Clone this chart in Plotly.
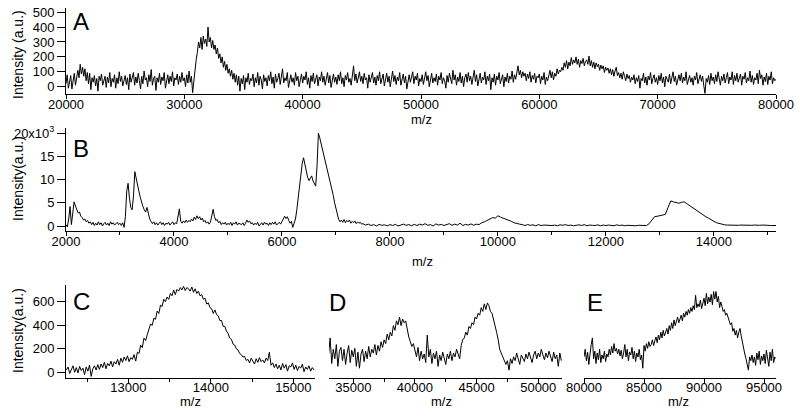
import numpy as np
import plotly.graph_objects as go

# ---------------- data ----------------
# Panel A: m/z 20000..80000, sampled every 100
a_start, a_step = 20000, 100
a_int = [
    20, 80, -10, 50, 75, -15, 45, 90, 10, 60,
    110, 60, 150, 85, 130, 70, 120, 40, 95, 20,
    90, -20, 60, 30, 75, 5, 55, -30, 70, 40,
    85, 10, 50, 70, -5, 65, 25, 95, 0, 55,
    30, 80, -10, 60, 20, 100, 35, 70, 5, 50,
    75, 15, 60, -20, 85, 30, 55, 95, 10, 65,
    25, 90, 40, -15, 70, 20, 105, 45, 60, 0,
    80, 35, 115, 10, 55, 70, -25, 60, 30, 90,
    15, 65, 40, 95, -10, 55, 80, 20, 70, 35,
    100, 5, 60, 45, 85, 15, 70, 30, 95, 40,
    60, 0, 80, 25, 105, 30, 70, -40, 50, 110,
    180, 230, 300, 260, 330, 250, 340, 290, 320, 270,
    400, 300, 330, 260, 310, 250, 280, 220, 260, 190,
    220, 160, 200, 130, 170, 110, 150, 90, 120, 70,
    110, 50, 90, 30, 80, 10, 70, -30, 55, 20,
    75, -20, 60, 30, 90, 15, 55, 40, 85, 0,
    60, 25, 95, 10, 70, 45, -15, 80, 35, 60,
    5, 75, 40, 100, 20, 65, -10, 85, 30, 55,
    90, 15, 70, 120, 25, 60, 40, 95, -5, 50,
    80, 30, 60, 10, 95, 40, 70, 0, 55, 85,
    25, 70, 45, 100, 15, 60, -10, 75, 35, 90,
    20, 55, 80, 5, 65, 40, 100, 30, 70, 10,
    60, 95, 25, 75, -5, 55, 85, 30, 65, 15,
    80, 40, 100, 20, 60, 0, 75, 45, 95, 30,
    55, 10, 70, 140, 40, 85, 25, 65, 100, 35,
    70, 20, 90, 45, 60, -10, 80, 30, 55, 95,
    25, 65, 10, 75, 40, 100, 20, 60, 85, 5,
    50, 90, 30, 70, 0, 60, 105, 35, 75, 15,
    65, 40, 95, 10, 55, 85, 25, 70, -15, 50,
    80, 30, 60, 100, 20, 70, 45, 90, 5, 55,
    35, 80, 15, 65, 100, 40, 75, 0, 55, 90,
    25, 60, 35, 85, 10, 70, 45, 95, 20, 60,
    40, -10, 75, 30, 90, 55, 20, 110, 45, 80,
    10, 65, 35, 95, 25, 70, 0, 60, 85, 30,
    95, 40, 70, 15, 60, 110, 35, 80, 5, 55,
    90, 25, 65, 45, 100, 15, 70, 40, 85, -20,
    60, 30, 85, 10, 70, 45, 95, 20, 55, 80,
    0, 65, 35, 90, 25, 70, 50, 105, 30, 80,
    50, 95, 140, 80, 110, 60, 100, 70, 90, 40,
    85, 55, 100, 30, 75, 50, 90, 25, 70, 60,
    85, 20, 70, 45, 95, 15, 65, 40, 80, 110,
    60, 100, 45, 90, 70, 120, 85, 110, 100, 130,
    110, 160, 130, 175, 120, 165, 140, 195, 150, 180,
    160, 200, 150, 185, 130, 175, 155, 190, 140, 170,
    180, 150, 205, 140, 175, 130, 165, 120, 160, 135,
    150, 110, 145, 120, 140, 95, 130, 110, 125, 90,
    120, 80, 115, 70, 105, 130, 75, 95, 60, 90,
    50, 100, 70, 40, 85, 55, 75, 30, 65, 45,
    80, 20, 60, 35, 75, -10, 55, 40, 90, 25,
    65, 10, 70, 45, 95, 20, 55, 80, 30, 60,
    15, 75, 40, 90, 25, 65, 0, 70, 50, 30,
    85, 20, 60, 100, 35, 70, 10, 55, 80, 40,
    90, 25, 65, 40, 100, 15, 55, 75, 30, 60,
    10, 70, 45, 95, 20, 60, 80, 35, 70, 5,
    -45, 55, 30, 75, 15, 90, 40, 65, 20, 80,
    35, 100, 50, 10, 70, 40, 85, 25, 60, 95,
    20, 65, 45, 100, 15, 75, 40, 90, 30, 60,
    85, 10, 70, 50, 95, 25, 60, 40, 105, 30,
    75, 15, 60, 45, 90, 20, 110, 55, 80, 10,
    65, 35, 90, 15, 70, 45, 100, 20, 60, 40,
    50,
]

# Panel B: two sampling segments
b1_start, b1_step = 2000, 25
b1_int = [
    300, -200, 1500, 4200, 300, 2500, 5200, 4300, 3600, 2800, 3000, 2100, 1800, 1300, 1500, 900, 1200, 600, 900, 300,
    800, 100, 600, 200, 900, 300, 700, 0, 500, 800, 200, 600, 100, 900, 400, 700, 200, 500, 800, 300,
    600, 100, 700, -300, 2000, 7500, 9200, 6000, 4000, 3500, 6500, 11700, 10500, 9000, 7500, 6200, 5000, 4200, 3500, 3000,
    4000, 2800, 1500, 1000, 500, 900, 300, 700, 200, 600, 900, 300, 700, 100, 600, 400, 800, 200, 500, 900,
    300, 700, 500, 2200, 3700, 1000, 600, 1100, 700, 1300, 800, 1200, 900, 1500, 1100, 1900, 1400, 2200, 1600, 2000,
    1300, 1700, 900, 1200, 600, 900, 400, 800, 2000, 3600, 2000, 1200, 1400, 700, 1000, 300, 700, 400, 800, 200,
    600, 300, 800, 100, 700, 400, 900, 200, 600, 500, 300, 700, 100, 600, 1300, 800, 1100, 500, 700, 200,
    600, 300, 800, 0, 500, 700, 200, 800, 400, 600, 100, 700, 300, 800, 400, 900, 200, 600, 800, 400,
    900, 1500, 2100, 1600, 2000, 1200, 600, 1000, -300, 600, 1500, 3500, 6000, 9000, 12000, 13500, 14700, 13000, 11500, 10500,
    9800, 10200, 10800, 9700, 9200, 8600, 13000, 20000, 19000, 17800, 16500, 15500, 14200, 12500, 11500, 10200, 9200, 7800, 6600, 5000,
    3800, 2500, 1400, 900, 1300, 800, 1400, 700, 1200, 900, 1300, 600, 1000, 700, 1100, 500, 900, 600, 800, 400,
]
b2_start, b2_step = 7500, 50
b2_int = [
    500, 200, 400, 100, 300, 0, 350, 150, 250, 50,
    300, 100, 350, 0, 250, 400, 150, 300, 50, 350,
    100, 400, 200, 500, 150, 300, 0, 450, 200, 350,
    100, 300, 500, 150, 400, 200, 600, 100, 350, 200,
    450, 150, 400, 300, 700, 900, 1200, 1500, 1800, 1700,
    2200, 1900, 1700, 1500, 1200, 1000, 700, 500, 400, 300,
    100, 300, 150, 250, 50, 300, 100, 200, 150, 250,
    100, 200, 50, 250, 150, 300, 100, 200, 50, 150,
    250, 100, 300, 50, 200, 150, 100, 250, 50, 200,
    100, 200, 150, 50, 250, 100, 200, 50, 150, 100,
    200, 50, 150, 100, 200, 100, 500, 1300, 2000, 2100,
    2200, 2300, 2500, 4000, 5400, 5200, 5000, 4900, 5100, 5200,
    4800, 4400, 4000, 3500, 3100, 2700, 2300, 2000, 1700, 1300,
    1000, 700, 500, 300, 250, 200, 150, 250, 200, 150,
    200, 150, 250, 200, 150, 200, 100, 150, 200, 100,
    150, 100, 150, 100,
]

# Panel C: m/z 12250..15250, every 20
c_start, c_step = 12250, 20
c_int = [
    20, 45, -10, 30, 55, 0, 40, -5, 50, 15,
    35, -20, 45, 10, 60, -35, 30, 55, 20, 65,
    25, 70, 40, 85, 30, 75, 55, 95, 45, 90,
    70, 110, 60, 120, 85, 130, 100, 140, 90, 125,
    110, 150, 95, 170, 160, 230, 210, 290, 270, 320,
    370, 410, 400, 460, 450, 520, 500, 570, 560, 620,
    600, 640, 620, 670, 650, 700, 660, 705, 690, 720,
    700, 730, 695, 720, 710, 690, 725, 680, 710, 670,
    690, 650, 660, 620, 630, 580, 590, 550, 540, 500,
    530, 490, 480, 440, 440, 390, 390, 350, 330, 290,
    280, 240, 230, 200, 190, 160, 150, 130, 135, 100,
    110, 80, 120, 95, 70, 115, 85, 125, 90, 105,
    80, 120, 100, 170, 60, 80, 40, 70, 30, 60,
    20, 75, 35, 65, 10, 55, 45, 80, 25, 60,
    15, 50, 35, 70, 5, 45, 25, 55, 10, 40,
    20,
]

# Panel D: m/z 33000..51875, every 125 (arbitrary intensity units)
d_start, d_step = 33000, 125
d_int = [
    25, 42, 15, 30, 20, 35, 12, 28,
    32, 18, 30, 14, 26, 34, 16, 29,
    22, 31, 12, 27, 10, 25, 30, 17,
    28, 20, 33, 22, 30, 26, 35, 24,
    34, 28, 38, 32, 40, 36, 46, 40,
    48, 44, 55, 50, 60, 56, 64, 55,
    62, 58, 60, 50, 43, 38, 33, 36,
    30, 22, 32, 18, 28, 20, 25, 16,
    45, 22, 30, 15, 26, 20, 28, 12,
    24, 18, 27, 21, 14, 25, 20, 28,
    18, 26, 22, 30, 24, 20, 34, 40,
    42, 48, 45, 54, 52, 58, 56, 64,
    62, 68, 66, 74, 70, 78, 72, 79,
    76, 70, 68, 62, 54, 48, 40, 30,
    26, 22, 19, 14, 18, 8, 20, 15,
    22, 18, 26, 20, 14, 24, 21, 17,
    25, 20, 27, 22, 16, 24, 28, 20,
    26, 22, 30, 24, 19, 26, 21, 28,
    23, 17, 27, 20, 24, 12, 26, 18,
]

# Panel E: m/z 80000..96000, every 100 (arbitrary intensity units)
e_start, e_step = 80000, 100
e_int = [
    22, 30, 18, 27, 14, 26, 35, 42, 20, 28,
    15, 26, 19, 30, 16, 24, 20, 28, 17, 25,
    22, 30, 24, 33, 26, 36, 28, 31, 25, 30,
    23, 29, 20, 26, 35, 22, 30, 18, 27, 24,
    32, 20, 28, 17, 26, 22, 30, 19, 24, 10,
    34, 28, 36, 31, 38, 33, 35, 40, 34, 39,
    43, 37, 45, 40, 48, 42, 50, 44, 47, 52,
    46, 55, 50, 58, 52, 61, 55, 60, 64, 58,
    62, 66, 60, 68, 64, 70, 66, 72, 68, 74,
    70, 76, 72, 87, 74, 78, 75, 82, 73, 79,
    84, 76, 89, 78, 85, 80, 88, 77, 91, 83,
    91, 80, 86, 74, 80, 75, 70, 72, 66, 68,
    64, 60, 56, 58, 49, 52, 45, 50, 42, 48,
    52, 44, 36, 30, 25, 20, 12, 8, 22, 18,
    24, 16, 22, 13, 26, 19, 28, 14, 23, 18,
    25, 15, 29, 20, 12, 27, 18, 30, 16, 22,
    20,
]

a_ticks = [20000, 30000, 40000, 50000, 60000, 70000, 80000]
a_yticks = [0, 100, 200, 300, 400, 500]
b_ticks = [2000, 4000, 6000, 8000, 10000, 12000, 14000]
b_yticks = [0, 5000, 10000, 15000, 20000]
b_yticktext = ["0", "5", "10", "15", "20x10<sup>3</sup>"]
c_ticks = [13000, 14000, 15000]
c_yticks = [0, 200, 400, 600]
d_ticks = [35000, 40000, 45000, 50000]
e_ticks = [80000, 85000, 90000, 95000]

# ---------------- figure ----------------
W, H = 800, 416
FONT = "Arial, Liberation Sans, Helvetica, sans-serif"


def px_x(p):
    return p / W


def px_y(p):
    return 1 - p / H


def mz(start, step, vals):
    return start + step * np.arange(len(vals))


fig = go.Figure()
line = dict(color="black", width=1)
fig.add_trace(go.Scatter(x=mz(a_start, a_step, a_int), y=a_int, mode="lines", line=line, xaxis="x", yaxis="y"))
fig.add_trace(go.Scatter(x=np.concatenate([mz(b1_start, b1_step, b1_int), mz(b2_start, b2_step, b2_int)]),
                         y=b1_int + b2_int, mode="lines", line=line, xaxis="x2", yaxis="y2"))
fig.add_trace(go.Scatter(x=mz(c_start, c_step, c_int), y=c_int, mode="lines", line=line, xaxis="x3", yaxis="y3"))
fig.add_trace(go.Scatter(x=mz(d_start, d_step, d_int), y=d_int, mode="lines", line=line, xaxis="x4", yaxis="y4"))
fig.add_trace(go.Scatter(x=mz(e_start, e_step, e_int), y=e_int, mode="lines", line=line, xaxis="x5", yaxis="y5"))

tickfont = dict(family=FONT, size=13, color="black")
base_x = dict(showline=True, linecolor="black", linewidth=1, ticks="outside", ticklen=4,
              tickcolor="black", tickwidth=1, showgrid=False, zeroline=False, tickfont=tickfont,
              automargin=False, fixedrange=True, tickformat="d", ticklabelstandoff=-6)
base_y = dict(showline=True, linecolor="black", linewidth=1, ticks="outside", ticklen=8,
              tickcolor="black", tickwidth=1, showgrid=False, zeroline=False, tickfont=tickfont,
              automargin=False, fixedrange=True, tickformat="d")
minor = lambda d: dict(ticks="outside", ticklen=3, tickcolor="black", dtick=d, showgrid=False)

fig.update_layout(
    width=W, height=H, margin=dict(l=0, r=0, t=0, b=0),
    paper_bgcolor="white", plot_bgcolor="white", showlegend=False, template="none",
    xaxis=dict(base_x, domain=[px_x(66), px_x(776)], range=[20000, 80000], tickvals=a_ticks, anchor="y"),
    yaxis=dict(base_y, domain=[px_y(94), px_y(8)], range=[-49, 528], tickvals=a_yticks, anchor="x"),
    xaxis2=dict(base_x, domain=[px_x(66), px_x(776)], range=[2000, 15150], tickvals=b_ticks,
                minor=minor(1000), anchor="y2"),
    yaxis2=dict(base_y, domain=[px_y(231), px_y(128)], range=[-1078, 21120], tickvals=b_yticks,
                ticktext=b_yticktext, anchor="x2"),
    xaxis3=dict(base_x, domain=[px_x(66), px_x(315)], range=[12245, 15263], tickvals=c_ticks,
                minor=minor(500), anchor="y3"),
    yaxis3=dict(base_y, domain=[px_y(377.7), px_y(285)], range=[-46, 742], tickvals=c_yticks, anchor="x3"),
    xaxis4=dict(base_x, domain=[px_x(329), px_x(562.3)], range=[33030, 51950], tickvals=d_ticks,
                minor=minor(2500), anchor="y4"),
    yaxis4=dict(visible=False, domain=[px_y(377.7), px_y(285)], range=[0, 97.9], anchor="x4", fixedrange=True),
    xaxis5=dict(base_x, domain=[px_x(584), px_x(775.7)], range=[80000, 95975], tickvals=e_ticks, anchor="y5"),
    yaxis5=dict(visible=False, domain=[px_y(377.7), px_y(285)], range=[0, 97.9], anchor="x5", fixedrange=True),
)

anns = []
for txt, cx, cy in [("A", 80.5, 21), ("B", 80.5, 149), ("C", 81.5, 301.5), ("D", 337.5, 302.5), ("E", 595, 302)]:
    anns.append(dict(text=txt, x=px_x(cx), y=px_y(cy), xref="paper", yref="paper", showarrow=False,
                     xanchor="center", yanchor="middle", font=dict(family=FONT, size=24, color="black")))
for cx, cy in [(421, 119), (422, 261), (190, 401), (441, 401), (678, 401)]:
    anns.append(dict(text="m/z", x=px_x(cx), y=px_y(cy), xref="paper", yref="paper", showarrow=False,
                     xanchor="center", yanchor="middle", borderpad=0,
                     font=dict(family=FONT, size=13, color="black")))
for txt, cy in [("Intensity (a.u.)", 55), ("Intensity(a.u.)", 179), ("Intensity(a.u.)", 331)]:
    anns.append(dict(text=txt, x=px_x(18), y=px_y(cy), xref="paper", yref="paper", showarrow=False,
                     textangle=-90, xanchor="center", yanchor="middle",
                     font=dict(family=FONT, size=14, color="black")))
fig.update_layout(annotations=anns)

fig.write_html("out.html", config={"displayModeBar": False},
               post_script="document.body.style.margin='0px';document.body.style.overflow='hidden';")
